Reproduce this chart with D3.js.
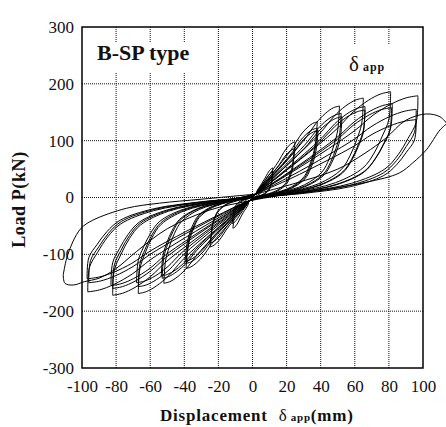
<!DOCTYPE html>
<html>
<head>
<meta charset="utf-8">
<script src="https://cdn.jsdelivr.net/npm/d3@7"></script>
<style>
  body { margin: 0; background: #fff; }
  svg { display: block; }
  text { font-family: "Liberation Serif", "Times New Roman", serif; fill: #111; }
</style>
</head>
<body>
<div id="chart-area"></div>
<script>
// tick values
const xTicks = [-100, -80, -60, -40, -20, 0, 20, 40, 60, 80, 100];
const yTicks = [-300, -200, -100, 0, 100, 200, 300];

// hysteresis cycles, [displacement mm, load kN]
const cyc06 = [[0,0],[1.8,6],[3.6,14],[5.1,21],[6,24],[5,16],[4.8,8],[3,4],[1.2,1],[-2,-6],[-3.6,-13],[-5.1,-19],[-6,-22],[-5,-14],[-4.8,-8],[-3,-3],[-1.2,-1],[2,6]];
const cyc12a = [[2,6],[2.8,12.5],[5.5,25],[7.4,34.3],[8.8,42.1],[10.1,47.8],[11.2,51],[12,52],[11.5,38.5],[11.3,30.2],[10.6,21.8],[9.6,14.6],[7.2,7.3],[3.6,2.6],[1.2,0.5],[-2,-6],
  [-2.6,-13],[-5.3,-25.9],[-7.1,-35.6],[-8.4,-43.7],[-9.7,-49.7],[-10.7,-52.9],[-11.5,-54],[-11,-40],[-10.8,-31.3],[-10.1,-22.7],[-9.2,-15.1],[-6.9,-7.6],[-3.5,-2.7],[-1.2,-0.5],[2,6]];
const cyc12b = [[2,6],[2.8,10.8],[5.5,21.6],[7.4,29.7],[8.8,36.5],[10.1,41.4],[11.2,44.1],[12,45],[11.5,33.3],[11.3,26.1],[10.6,18.9],[9.6,12.6],[7.2,6.3],[3.6,2.3],[1.2,0.5],[-2,-6],
  [-2.8,-11],[-5.5,-22.1],[-7.4,-30.4],[-8.8,-37.3],[-10.1,-42.3],[-11.2,-45.1],[-12,-46],[-11.5,-34],[-11.3,-26.7],[-10.6,-19.3],[-9.6,-12.9],[-7.2,-6.4],[-3.6,-2.3],[-1.2,-0.5],[2,6]];
const cyc25a = [[2,6],[5.8,23.5],[11.5,47],[15.5,64.7],[18.3,79.4],[21,90.2],[23.3,96],[25,98],[24,72.5],[23.5,56.8],[22,41.2],[20,27.4],[15,13.7],[7.5,4.9],[2.5,1],[-2,-6],
  [-5.8,-20.9],[-11.5,-41.8],[-15.5,-57.4],[-18.3,-70.5],[-21,-80],[-23.3,-85.3],[-25,-87],[-24,-64.4],[-23.5,-50.5],[-22,-36.5],[-20,-24.4],[-15,-12.2],[-7.5,-4.4],[-2.5,-0.9],[2,6]];
const cyc25b = [[2,6],[5.8,20.6],[11.5,41.3],[15.5,56.8],[18.3,69.7],[21,79.1],[23.3,84.3],[25,86],[24,63.6],[23.5,49.9],[22,36.1],[20,24.1],[15,12],[7.5,4.3],[2.5,0.9],[-2,-6],
  [-5.8,-19.2],[-11.5,-38.4],[-15.5,-52.8],[-18.3,-64.8],[-21,-73.6],[-23.3,-78.4],[-25,-80],[-24,-59.2],[-23.5,-46.4],[-22,-33.6],[-20,-22.4],[-15,-11.2],[-7.5,-4],[-2.5,-0.8],[2,6]];
const cyc38a = [[2,6],[8.7,31.9],[17.5,63.8],[23.6,87.8],[27.7,107.7],[31.9,122.4],[35.3,130.3],[38,133],[37,98.4],[35.7,77.1],[33.4,55.9],[30.4,37.2],[22.8,18.6],[11.4,6.7],[3.8,1.3],[-2,-6],
  [-9,-30],[-17.9,-60],[-24.2,-82.5],[-28.5,-101.3],[-32.8,-115],[-36.3,-122.5],[-39,-125],[-38,-92.5],[-36.7,-72.5],[-34.3,-52.5],[-31.2,-35],[-23.4,-17.5],[-11.7,-6.3],[-3.9,-1.3],[2,6]];
const cyc38b = [[2,6],[8.7,29.3],[17.5,58.6],[23.6,80.5],[27.7,98.8],[31.9,112.2],[35.3,119.6],[38,122],[37,90.3],[35.7,70.8],[33.4,51.2],[30.4,34.2],[22.8,17.1],[11.4,6.1],[3.8,1.2],[-2,-6],
  [-9,-27.8],[-17.9,-55.7],[-24.2,-76.6],[-28.5,-94],[-32.8,-106.7],[-36.3,-113.7],[-39,-116],[-38,-85.8],[-36.7,-67.3],[-34.3,-48.7],[-31.2,-32.5],[-23.4,-16.2],[-11.7,-5.8],[-3.9,-1.2],[2,6]];
const cyc38c = [[2,6],[8.9,28.3],[17.7,56.6],[23.9,77.9],[28.1,95.6],[32.3,108.6],[35.8,115.6],[38.5,118],[37.5,87.3],[36.2,68.4],[33.9,49.6],[30.8,33],[23.1,16.5],[11.6,5.9],[3.9,1.2],[-2,-6],
  [-9.1,-26.9],[-18.2,-53.8],[-24.5,-73.9],[-28.8,-90.7],[-33.2,-103],[-36.7,-109.8],[-39.5,-112],[-38.5,-82.9],[-37.1,-65],[-34.8,-47],[-31.6,-31.4],[-23.7,-15.7],[-11.9,-5.6],[-4,-1.1],[2,6]];
const cyc52a = [[2,6],[11.7,38.6],[23.5,77.3],[31.6,106.3],[37.2,130.4],[42.8,148.1],[47.4,157.8],[51,161],[50,119.1],[47.9,93.4],[44.9,67.6],[40.8,45.1],[30.6,22.5],[15.3,8.1],[5.1,1.6],[-2,-6],
  [-12,-36.2],[-23.9,-72.5],[-32.2,-99.7],[-38,-122.3],[-43.7,-138.9],[-48.4,-148],[-52,-151],[-51,-111.7],[-48.9,-87.6],[-45.8,-63.4],[-41.6,-42.3],[-31.2,-21.1],[-15.6,-7.6],[-5.2,-1.5],[2,6]];
const cyc52b = [[2,6],[12,35.5],[23.9,71],[32.2,97.7],[38,119.9],[43.7,136.2],[48.4,145],[52,148],[51,109.5],[48.9,85.8],[45.8,62.2],[41.6,41.4],[31.2,20.7],[15.6,7.4],[5.2,1.5],[-2,-6],
  [-12.2,-34.1],[-24.4,-68.2],[-32.9,-93.7],[-38.7,-115],[-44.5,-130.6],[-49.3,-139.2],[-53,-142],[-52,-105.1],[-49.8,-82.4],[-46.6,-59.6],[-42.4,-39.8],[-31.8,-19.9],[-15.9,-7.1],[-5.3,-1.4],[2,6]];
const cyc52c = [[2,6],[12.1,34.1],[24.2,68.2],[32.6,93.7],[38.3,115],[44.1,130.6],[48.8,139.2],[52.5,142],[51.5,105.1],[49.4,82.4],[46.2,59.6],[42,39.8],[31.5,19.9],[15.8,7.1],[5.3,1.4],[-2,-6],
  [-12.3,-33.1],[-24.6,-66.2],[-33.2,-91.1],[-39.1,-111.8],[-44.9,-127],[-49.8,-135.2],[-53.5,-138],[-52.5,-102.1],[-50.3,-80],[-47.1,-58],[-42.8,-38.6],[-32.1,-19.3],[-16.1,-6.9],[-5.4,-1.4],[2,6]];
const cyc65a = [[2,6],[15,42],[29.9,84],[40.3,115.5],[47.5,141.8],[54.6,161],[60.5,171.5],[65,175],[64,129.5],[61.1,101.5],[57.2,73.5],[52,49],[39,24.5],[19.5,8.8],[6.5,1.8],[-2,-6],
  [-15.4,-40.6],[-30.8,-81.1],[-41.5,-111.5],[-48.9,-136.9],[-56.3,-155.5],[-62.3,-165.6],[-67,-169],[-66,-125.1],[-63,-98],[-59,-71],[-53.6,-47.3],[-40.2,-23.7],[-20.1,-8.5],[-6.7,-1.7],[2,6]];
const cyc65b = [[2,6],[15.2,38.4],[30.4,76.8],[40.9,105.6],[48.2,129.6],[55.4,147.2],[61.4,156.8],[66,160],[65,118.4],[62,92.8],[58.1,67.2],[52.8,44.8],[39.6,22.4],[19.8,8],[6.6,1.6],[-2,-6],
  [-15.4,-37.7],[-30.8,-75.4],[-41.5,-103.6],[-48.9,-127.2],[-56.3,-144.4],[-62.3,-153.9],[-67,-157],[-66,-116.2],[-63,-91.1],[-59,-65.9],[-53.6,-44],[-40.2,-22],[-20.1,-7.9],[-6.7,-1.6],[2,6]];
const cyc65c = [[2,6],[15.2,37],[30.4,73.9],[40.9,101.6],[48.2,124.7],[55.4,141.7],[61.4,150.9],[66,154],[65,114],[62,89.3],[58.1,64.7],[52.8,43.1],[39.6,21.6],[19.8,7.7],[6.6,1.5],[-2,-6],
  [-15.6,-36],[-31.3,-72],[-42.2,-99],[-49.6,-121.5],[-57.1,-138],[-63.2,-147],[-68,-150],[-67,-111],[-63.9,-87],[-59.8,-63],[-54.4,-42],[-40.8,-21],[-20.4,-7.5],[-6.8,-1.5],[2,6]];
const cyc81a = [[2,6],[18.6,44.6],[37.3,89.3],[50.2,122.8],[59.1,150.7],[68,171.1],[75.3,182.3],[81,186],[80,137.6],[76.1,107.9],[71.3,78.1],[64.8,52.1],[48.6,26],[24.3,9.3],[8.1,1.9],[-2,-6],
  [-18.9,-41.3],[-37.7,-82.6],[-50.8,-113.5],[-59.9,-139.3],[-68.9,-158.2],[-76.3,-168.6],[-82,-172],[-81,-127.3],[-77.1,-99.8],[-72.2,-72.2],[-65.6,-48.2],[-49.2,-24.1],[-24.6,-8.6],[-8.2,-1.7],[2,6]];
const cyc81b = [[2,6],[18.9,39.6],[37.7,79.2],[50.8,108.9],[59.9,133.7],[68.9,151.8],[76.3,161.7],[82,165],[81,122.1],[77.1,95.7],[72.2,69.3],[65.6,46.2],[49.2,23.1],[24.6,8.3],[8.2,1.7],[-2,-6],
  [-18.9,-38.4],[-37.7,-76.8],[-50.8,-105.6],[-59.9,-129.6],[-68.9,-147.2],[-76.3,-156.8],[-82,-160],[-81,-118.4],[-77.1,-92.8],[-72.2,-67.2],[-65.6,-44.8],[-49.2,-22.4],[-24.6,-8],[-8.2,-1.6],[2,6]];
const cyc81c = [[2,6],[18.7,37.9],[37.5,75.8],[50.5,104.3],[59.5,128],[68.5,145.4],[75.8,154.8],[81.5,158],[80.5,116.9],[76.6,91.6],[71.7,66.4],[65.2,44.2],[48.9,22.1],[24.5,7.9],[8.2,1.6],[-2,-6],
  [-19.1,-37.2],[-38.2,-74.4],[-51.5,-102.3],[-60.6,-125.6],[-69.7,-142.6],[-77.2,-151.9],[-83,-155],[-82,-114.7],[-78,-89.9],[-73,-65.1],[-66.4,-43.4],[-49.8,-21.7],[-24.9,-7.8],[-8.3,-1.6],[2,6]];
const cyc97a = [[2,6],[22.3,43],[44.6,85.9],[60.1,118.1],[70.8,145],[81.5,164.7],[90.2,175.4],[97,179],[96,132.5],[91.2,103.8],[85.4,75.2],[77.6,50.1],[58.2,25.1],[29.1,9],[9.7,1.8],[-2,-6],
  [-22.2,-39.8],[-44.4,-79.7],[-59.9,-109.6],[-70.5,-134.5],[-81.1,-152.7],[-89.8,-162.7],[-96.6,-166],[-95.6,-122.8],[-90.8,-96.3],[-85,-69.7],[-77.3,-46.5],[-58,-23.2],[-29,-8.3],[-9.7,-1.7],[2,6]];
const cyc97b = [[2,6],[22.1,37.2],[44.2,74.4],[59.5,102.3],[70.1,125.6],[80.6,142.6],[89.3,151.9],[96,155],[95,114.7],[90.2,89.9],[84.5,65.1],[76.8,43.4],[57.6,21.7],[28.8,7.8],[9.6,1.6],[-2,-6],
  [-22.1,-36],[-44.2,-72],[-59.5,-99],[-70.1,-121.5],[-80.6,-138],[-89.3,-147],[-96,-150],[-95,-111],[-90.2,-87],[-84.5,-63],[-76.8,-42],[-57.6,-21],[-28.8,-7.5],[-9.6,-1.5],[2,6]];
const cyc97c = [[2,6],[22.1,32.9],[44.2,65.8],[59.5,90.4],[70.1,111],[80.6,126],[89.3,134.3],[96,137],[95,101.4],[90.2,79.5],[84.5,57.5],[76.8,38.4],[57.6,19.2],[28.8,6.9],[9.6,1.4],[-2,-6],
  [-22.3,-34.3],[-44.6,-68.6],[-60.1,-94.4],[-70.8,-115.8],[-81.5,-131.6],[-90.2,-140.1],[-97,-143],[-96,-105.8],[-91.2,-82.9],[-85.4,-60.1],[-77.6,-40],[-58.2,-20],[-29.1,-7.2],[-9.7,-1.4],[2,6]];
const cyc112 = [[2,6],[25,25],[50,50],[66,78],[78,104],[90,136],[102,147],[110,142],[114,130],[110,119],[102,84],[94,61],[86,43],[67,27],[40,13],[15,3],[-2,-6],
  [-25,-22],[-50,-55],[-68,-95],[-80,-125],[-90,-142],[-98.5,-148],[-105,-154],[-110,-151],[-111,-136],[-109,-107],[-105.4,-78],[-100.5,-54],[-93.7,-40],[-74,-19],[-54.6,-10],[-30,-3],[2,6]];

const cycles = [cyc06, cyc12a, cyc12b, cyc25a, cyc25b, cyc38a, cyc38b, cyc38c,
  cyc52a, cyc52b, cyc52c, cyc65a, cyc65b, cyc65c, cyc81a, cyc81b, cyc81c,
  cyc97a, cyc97b, cyc97c, cyc112];

let margin = { top: 27, right: 23, bottom: 59, left: 82 },
  width = 446 - margin.left - margin.right,
  height = 427 - margin.top - margin.bottom;

let svg = d3
  .select("#chart-area")
  .append("svg")
  .attr("width", 446)
  .attr("height", 427)
  .append("g")
  .attr("transform", "translate(" + margin.left + "," + margin.top + ")");

let x = d3.scaleLinear().domain([-100, 100]).range([0, width]);
let y = d3.scaleLinear().domain([-300, 300]).range([height, 0]);

// GRID
svg
  .append("g")
  .selectAll("line")
  .data(xTicks.slice(1, -1))
  .enter()
  .append("line")
  .attr("x1", d => x(d))
  .attr("x2", d => x(d))
  .attr("y1", 0)
  .attr("y2", height)
  .attr("stroke", "#111")
  .attr("stroke-width", 1)
  .attr("stroke-dasharray", "1,1");

svg
  .append("g")
  .selectAll("line")
  .data(yTicks.slice(1, -1))
  .enter()
  .append("line")
  .attr("x1", 0)
  .attr("x2", width)
  .attr("y1", d => y(d))
  .attr("y2", d => y(d))
  .attr("stroke", "#111")
  .attr("stroke-width", 1)
  .attr("stroke-dasharray", "1,1");

// label boxes hide the grid behind them
svg.append("rect").attr("x", 12).attr("y", 15).attr("width", 104).attr("height", 31).attr("fill", "#fff");
svg.append("rect").attr("x", 264).attr("y", 18).attr("width", 50).attr("height", 37).attr("fill", "#fff");

// AXIS labels
let xAxis = d3.axisBottom(x).tickValues(xTicks).tickSize(0).tickPadding(12).tickFormat(d => String(d));
let yAxis = d3.axisLeft(y).tickValues(yTicks).tickSize(0).tickPadding(8).tickFormat(d => String(d));

let xAxisGroup = svg
  .append("g")
  .attr("class", "x-axis axis")
  .attr("transform", "translate(0," + height + ")")
  .call(xAxis);
let yAxisGroup = svg.append("g").attr("class", "y-axis axis").call(yAxis);

svg.selectAll(".axis path").remove();
svg
  .selectAll(".axis text")
  .style("font-family", "'Liberation Serif', serif")
  .style("font-size", "17px")
  .attr("fill", "#111");

// CURVES: break each cycle where the displacement turns back
function splitAtTurns(pts) {
  let segs = [], cur = [pts[0]], dir = 0;
  for (let i = 1; i < pts.length; i++) {
    let s = Math.sign(pts[i][0] - pts[i - 1][0]);
    if (dir !== 0 && s !== 0 && s !== dir) {
      segs.push(cur);
      cur = [pts[i - 1]];
    }
    if (s !== 0) dir = s;
    cur.push(pts[i]);
  }
  segs.push(cur);
  return segs;
}

let line = d3
  .line()
  .x(d => x(d[0]))
  .y(d => y(d[1]))
  .curve(d3.curveCatmullRom.alpha(0.5));

let segments = [];
cycles.forEach(c => (segments = segments.concat(splitAtTurns(c))));

svg
  .append("g")
  .selectAll("path")
  .data(segments)
  .enter()
  .append("path")
  .attr("d", line)
  .attr("fill", "none")
  .attr("stroke", "#000")
  .attr("stroke-width", 1);

// frame
svg
  .append("rect")
  .attr("width", width)
  .attr("height", height)
  .attr("fill", "none")
  .attr("stroke", "#000")
  .attr("stroke-width", 1.5);

// TEXT
svg
  .append("text")
  .attr("x", 15)
  .attr("y", 33)
  .style("font-size", "22px")
  .style("font-weight", "bold")
  .text("B-SP type");

let dl = svg.append("text").attr("x", 267).attr("y", 44);
dl.append("tspan").style("font-size", "21px").text("δ");
dl.append("tspan").attr("dx", 4).style("font-size", "12px").style("font-weight", "bold").style("letter-spacing", "1px").text("app");

svg
  .append("text")
  .attr("transform", "translate(" + (-57) + "," + (height / 2 + 2) + ") rotate(-90)")
  .style("text-anchor", "middle")
  .style("font-size", "18px")
  .style("font-weight", "bold")
  .style("letter-spacing", "0.6px")
  .text("Load P(kN)");

let xt = svg
  .append("text")
  .attr("x", 78)
  .attr("y", height + 53)
  .style("font-size", "17px")
  .style("font-weight", "bold")
  .style("letter-spacing", "0.8px");
xt.append("tspan").text("Displacement ");
xt.append("tspan").attr("dx", 6).style("font-weight", "normal").text("δ");
xt.append("tspan").attr("dx", 3).style("font-size", "11px").text("app");
xt.append("tspan").text("(mm)");
</script>
</body>
</html>
